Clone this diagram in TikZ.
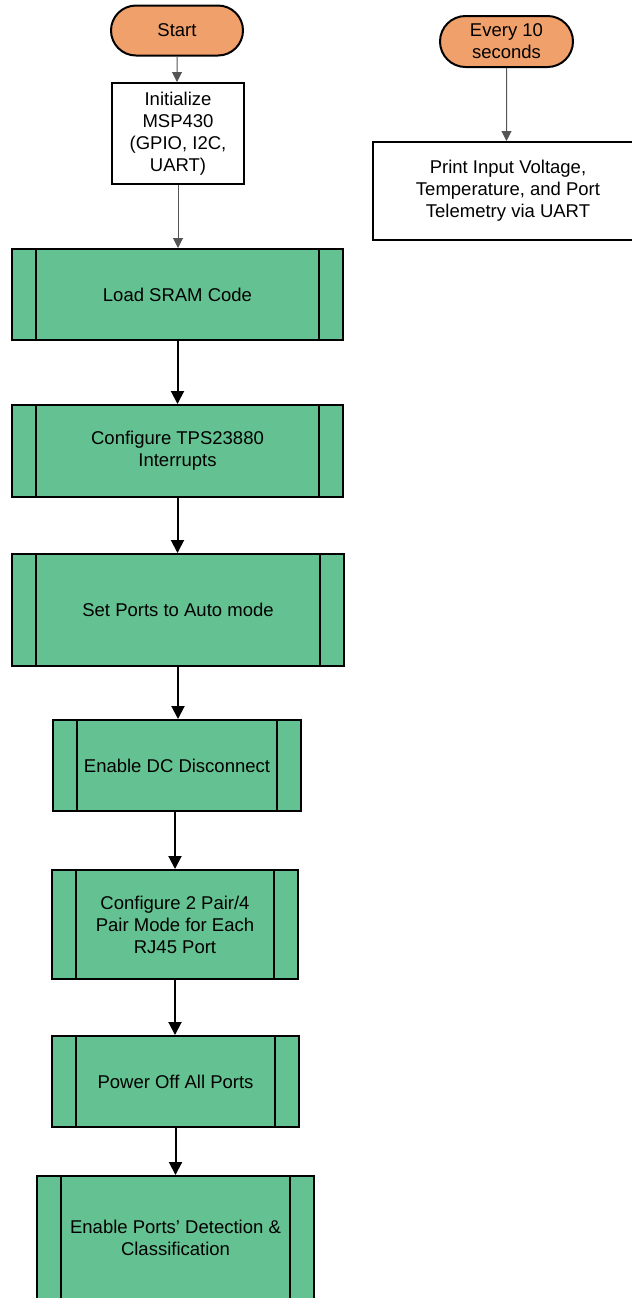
\documentclass[tikz,border=0pt]{standalone}
\usepackage{fontspec}
\setmainfont{Liberation Sans}
\usepackage{tikz}
\usetikzlibrary{arrows.meta,shapes.misc}

\definecolor{termorange}{RGB}{240,160,106}
\definecolor{procgreen}{RGB}{100,194,146}
\definecolor{arrowgray}{RGB}{85,85,85}

\tikzset{
  term/.style={rounded rectangle, draw, fill=termorange, line width=1pt,
    minimum width=66pt, minimum height=25pt, align=center, inner sep=0pt},
  plainbox/.style={draw, fill=white, line width=1pt, align=center, inner sep=0pt},
  predef/.style={draw, fill=procgreen, line width=1pt, align=center, inner sep=0pt,
    path picture={
      \draw[line width=1pt]
        ([xshift=#1]path picture bounding box.north west) -- ([xshift=#1]path picture bounding box.south west)
        ([xshift=-#1]path picture bounding box.north east) -- ([xshift=-#1]path picture bounding box.south east);
    }},
  predef/.default=12pt,
  flow/.style={-{Triangle[width=6.5pt,length=6.5pt]}, line width=1pt},
  thinflow/.style={-{Triangle[width=5pt,length=5pt]}, line width=0.5pt, arrowgray},
}

\begin{document}
\begin{tikzpicture}[x=0.5pt, y=-0.5pt, font=\fontsize{9.25}{11}\selectfont]
\useasboundingbox (0,0) rectangle (632,1298);
\clip (0,0) rectangle (632,1298);

% left column
\node[term] (start) at (177,30.5) {Start};
\node[plainbox, minimum width=66pt, minimum height=50.5pt] (init) at (178,133.5)
  {Initialize\\MSP430\\(GPIO, I2C,\\UART)};
\node[predef, minimum width=165.5pt, minimum height=45.5pt] (load) at (177.5,294.5) {Load SRAM Code};
\node[predef, minimum width=165.5pt, minimum height=46pt] (intr) at (177.5,451)
  {Configure TPS23880\\Interrupts};
\node[predef, minimum width=166pt, minimum height=56pt] (auto) at (178,610) {Set Ports to Auto mode};
\node[predef, minimum width=124pt, minimum height=45.5pt] (dcdis) at (177,765.5) {Enable DC Disconnect};
\node[predef, minimum width=123pt, minimum height=54.5pt] (pair) at (175,924.5)
  {Configure 2 Pair/4\\Pair Mode for Each\\RJ45 Port};
\node[predef, minimum width=123.5pt, minimum height=45.5pt] (poff) at (175.5,1081.5) {Power Off All Ports};
\node[predef, minimum width=138.5pt, minimum height=62pt] (detect) at (175.5,1238)
  {Enable Ports' Detection \&\\Classification};

% right column
\node[term, minimum width=66.5pt, minimum height=25.5pt] (tick) at (506.5,41.5) {Every 10\\seconds};
\node[plainbox, minimum width=135pt, minimum height=49pt] (print) at (508,191)
  {Print Input Voltage,\\Temperature, and Port\\Telemetry via UART};

% connectors
\draw[thinflow] (start) -- (start |- init.north);
\draw[thinflow] (init) -- (init |- load.north);
\draw[flow] (load) -- (load |- intr.north);
\draw[flow] (intr) -- (intr |- auto.north);
\draw[flow] (auto) -- (auto |- dcdis.north);
\draw[flow] (pair |- dcdis.south) -- (pair);
\draw[flow] (pair) -- (pair |- poff.north);
\draw[flow] (poff) -- (poff |- detect.north);
\draw[thinflow] (tick) -- (tick |- print.north);
\end{tikzpicture}
\end{document}
